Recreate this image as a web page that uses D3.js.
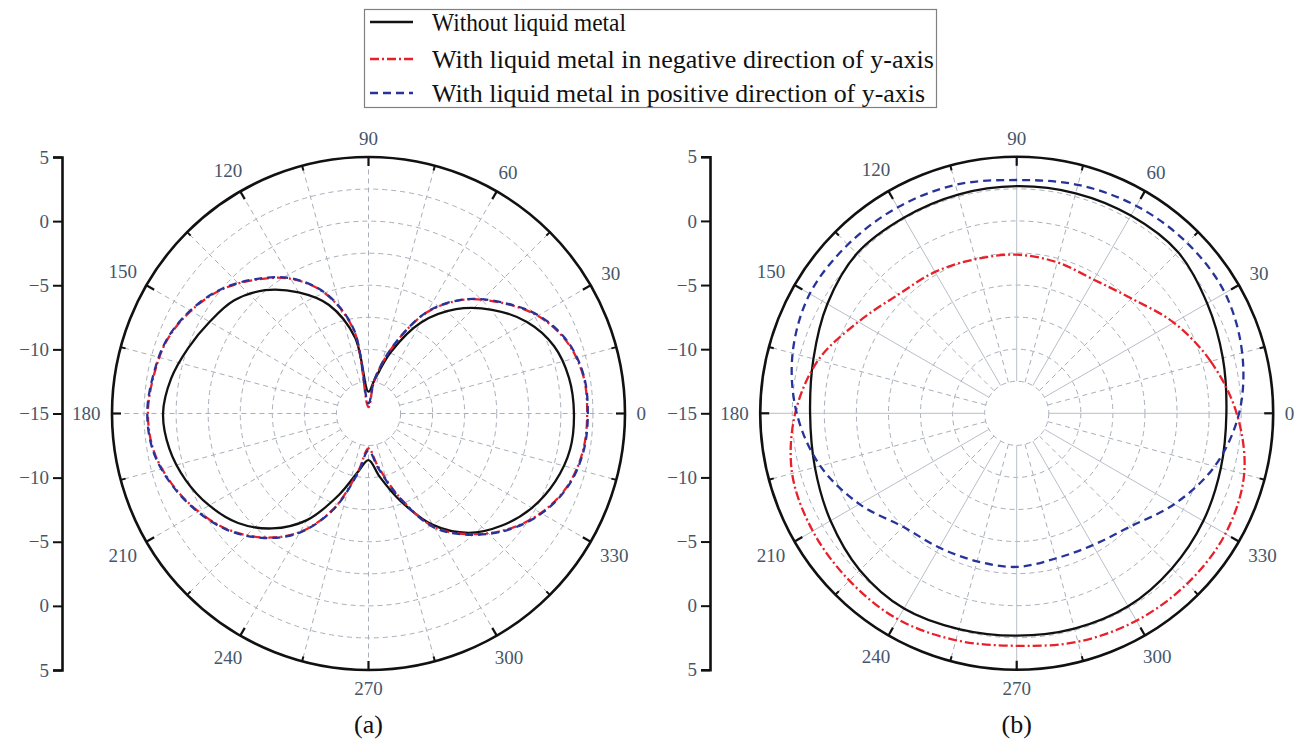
<!DOCTYPE html>
<html><head><meta charset="utf-8">
<script src="https://cdn.jsdelivr.net/npm/d3@7/dist/d3.min.js"></script>
<style>body{margin:0;background:#fff;} svg{display:block;}</style>
</head><body>
<svg id="c" width="1299" height="746"></svg>
<script>
// ---------- DATA ----------
const seriesNames = ["Without liquid metal",
  "With liquid metal in negative direction of y-axis",
  "With liquid metal in positive direction of y-axis"];

// panel (a): angles in degrees, gains in dB
const anglesA = [0,10,20,30,40,50,60,70,80,90,100,110,120,130,140,150,160,170,
  180,190,200,210,220,230,240,250,260,270,280,290,300,310,320,330,340,350];
const withoutA = [1.02,0.88,0.39,-0.73,-2.42,-4.38,-6.80,-9.90,-12.37,-13.30,-9.00,-6.00,-4.10,-2.45,-1.30,-0.70,-0.05,0.63,
  1.02,0.77,0.17,-0.66,-1.72,-3.30,-5.40,-8.24,-10.40,-11.37,-10.00,-7.77,-4.97,-2.85,-1.41,-0.28,0.50,0.97];
const negativeA = [2.05,2.00,1.44,0.24,-1.55,-3.42,-5.89,-9.45,-12.38,-14.50,-8.40,-5.00,-2.87,-1.38,0.00,1.00,1.72,2.00,
  2.20,1.99,1.26,0.30,-0.85,-2.38,-4.33,-7.12,-10.46,-12.28,-10.85,-8.14,-4.78,-2.72,-0.92,0.52,1.52,1.97];
const positiveA = [2.10,2.04,1.50,0.30,-1.50,-3.38,-5.85,-9.40,-12.30,-14.20,-8.30,-4.95,-2.82,-1.32,0.05,1.05,1.76,2.05,
  2.25,2.04,1.31,0.35,-0.80,-2.33,-4.28,-7.05,-10.30,-12.10,-10.70,-8.05,-4.72,-2.66,-0.86,0.58,1.57,2.02];

// panel (b)
const anglesB = [0,15,30,45,60,75,90,105,120,135,150,165,180,195,210,225,240,255,270,285,300,315,330,345];
const withoutB = [1.35,1.64,2.15,2.78,2.80,2.76,2.71,2.66,2.61,2.62,2.05,1.41,1.11,1.29,1.76,2.30,2.58,2.42,2.34,2.38,2.38,2.11,1.80,1.48];
const negativeB = [2.15,0.66,-0.86,-2.34,-2.97,-2.81,-2.63,-2.56,-2.27,-1.92,-0.74,1.02,2.27,3.13,3.36,3.45,3.54,3.32,3.13,3.44,3.67,3.79,3.79,3.36];
const positiveB = [2.34,3.20,3.75,3.79,3.67,3.44,3.19,3.44,3.55,3.61,3.63,3.09,2.15,0.86,-0.84,-2.48,-2.91,-3.05,-3.02,-3.28,-3.13,-2.50,-0.82,0.98];

// ticks
const radialDomain = [-15, 5];
const radialTickLabels = ["5","0","\u22125","\u221210","\u221215","\u221210","\u22125","0","5"];
const radialMinorCount = 17;
const gridLevels = [-12.5,-10,-7.5,-5,-2.5,0,2.5];
const angleTickLabels = ["0","30","60","90","120","150","180","210","240","270","300","330"];
const angleTickValues = [0,30,60,90,120,150,180,210,240,270,300,330];
const angleMinorValues = [15,45,75,105,135,165,195,225,255,285,315,345];
const captions = ["(a)","(b)"];

// ---------- STYLES ----------
const colors = ["#111111","#e8202a","#26349a"];
const dashes = [null,"9,3,2,3","8,5"];
const gridColor = "#a9afba";
const labelColor = "#46566a";
const numFont = "'Liberation Serif','Times New Roman',serif";

const svg = d3.select("#c");
const R = 256.5;
const rScale = d3.scaleLinear().domain(radialDomain).range([0, R]);
const rad = d => d * Math.PI / 180;

function panel(opt) {
  const {cx, cy, axisX, angles, series, solidSpokes, caption} = opt;
  const g = svg.append("g").attr("transform", `translate(${cx},${cy})`);

  g.selectAll("circle.grid").data(gridLevels).join("circle")
    .attr("r", d => rScale(d)).attr("fill", "none")
    .attr("stroke", gridColor).attr("stroke-width", 1).attr("stroke-dasharray", "5,4");

  const spokeVals = [];
  for (const a of angleTickValues) spokeVals.push({a, solid: solidSpokes});
  for (const a of angleMinorValues) spokeVals.push({a, solid: false});
  g.selectAll("line.spoke").data(spokeVals).join("line")
    .attr("x1", d => rScale(gridLevels[0]) * Math.cos(rad(d.a)))
    .attr("y1", d => -rScale(gridLevels[0]) * Math.sin(rad(d.a)))
    .attr("x2", d => R * Math.cos(rad(d.a)))
    .attr("y2", d => -R * Math.sin(rad(d.a)))
    .attr("stroke", d => d.solid ? "#b9bec8" : gridColor)
    .attr("stroke-width", 1)
    .attr("stroke-dasharray", d => d.solid ? null : "5,4");

  series.forEach((vals, i) => {
    const pts = angles.map((a, k) => [a, vals[k]]);
    const line = d3.lineRadial()
      .angle(d => Math.PI / 2 - rad(d[0]))
      .radius(d => rScale(d[1]))
      .curve(d3.curveCatmullRomClosed.alpha(0.5));
    g.append("path").attr("d", line(pts)).attr("fill", "none")
      .attr("stroke", colors[i]).attr("stroke-width", 2.3)
      .attr("stroke-dasharray", dashes[i]);
  });

  g.append("circle").attr("r", R).attr("fill", "none").attr("stroke", "#111").attr("stroke-width", 2.6);
  g.selectAll("line.maj").data(angleTickValues).join("line")
    .attr("x1", d => R * Math.cos(rad(d))).attr("y1", d => -R * Math.sin(rad(d)))
    .attr("x2", d => (R - 9) * Math.cos(rad(d))).attr("y2", d => -(R - 9) * Math.sin(rad(d)))
    .attr("stroke", "#111").attr("stroke-width", 2.2);
  g.selectAll("line.min").data(angleMinorValues).join("line")
    .attr("x1", d => R * Math.cos(rad(d))).attr("y1", d => -R * Math.sin(rad(d)))
    .attr("x2", d => (R - 5) * Math.cos(rad(d))).attr("y2", d => -(R - 5) * Math.sin(rad(d)))
    .attr("stroke", "#111").attr("stroke-width", 2);

  const lblR = (d, i) => {
    const w = angleTickLabels[i].length * 9.5;
    return 268 + Math.abs(Math.cos(rad(d))) * w / 2 + Math.abs(Math.sin(rad(d))) * 7;
  };
  g.selectAll("text.ang").data(angleTickValues).join("text")
    .attr("x", (d, i) => lblR(d, i) * Math.cos(rad(d)))
    .attr("y", (d, i) => -lblR(d, i) * Math.sin(rad(d)))
    .attr("dy", "0.35em").attr("text-anchor", "middle")
    .attr("font-family", numFont).attr("font-size", 19).attr("fill", labelColor)
    .text((d, i) => angleTickLabels[i]);

  const yMajor = d3.scalePoint().domain(d3.range(radialTickLabels.length)).range([cy - R, cy + R]);
  const yMinor = d3.scalePoint().domain(d3.range(radialMinorCount)).range([cy - R, cy + R]);
  const ax = svg.append("g").attr("transform", `translate(${axisX},0)`);
  ax.call(d3.axisLeft(yMinor).tickSize(5).tickFormat(""));
  ax.call(d3.axisLeft(yMajor).tickSize(9).tickPadding(4).tickFormat(i => radialTickLabels[i]));
  ax.selectAll("path.domain").attr("stroke", "#111").attr("stroke-width", 2.6);
  ax.selectAll(".tick line").attr("stroke", "#111").attr("stroke-width", 2);
  ax.selectAll(".tick text").attr("font-family", numFont).attr("font-size", 19).attr("fill", labelColor);

  svg.append("text").attr("x", cx).attr("y", 733).attr("text-anchor", "middle")
    .attr("font-family", numFont).attr("font-size", 26).attr("fill", "#111").text(caption);
}

panel({cx: 368.5, cy: 413.5, axisX: 62, angles: anglesA,
  series: [withoutA, negativeA, positiveA], solidSpokes: false, caption: captions[0]});
panel({cx: 1016.7, cy: 413.3, axisX: 710, angles: anglesB,
  series: [withoutB, negativeB, positiveB], solidSpokes: true, caption: captions[1]});

// legend
const lg = svg.append("g");
lg.append("rect").attr("x", 364.5).attr("y", 9.5).attr("width", 572).attr("height", 98)
  .attr("fill", "#fff").attr("stroke", "#808080").attr("stroke-width", 1.2);
const rowsY = [22, 59, 93];
const rowWidths = [194, 502, 493];
seriesNames.forEach((name, i) => {
  lg.append("line").attr("x1", 370).attr("x2", 413).attr("y1", rowsY[i]).attr("y2", rowsY[i])
    .attr("stroke", colors[i]).attr("stroke-width", 2.5).attr("stroke-dasharray", dashes[i]);
  lg.append("text").attr("x", 432).attr("y", rowsY[i] + 9)
    .attr("font-family", numFont).attr("font-size", 26).attr("fill", "#111")
    .attr("textLength", rowWidths[i]).attr("lengthAdjust", "spacingAndGlyphs").text(name);
});
</script>
</body></html>
